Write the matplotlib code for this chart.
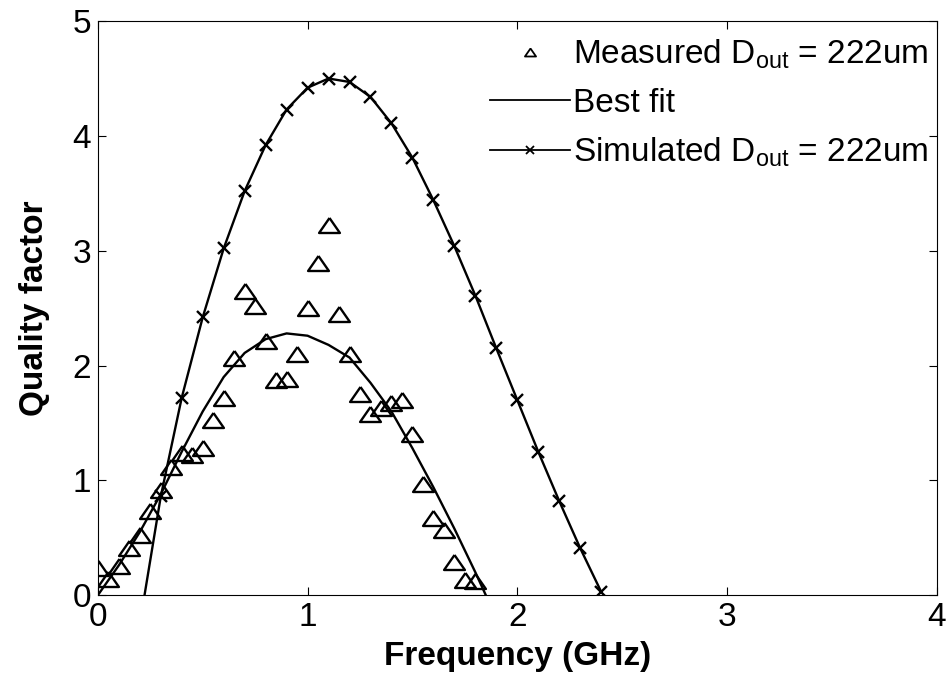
import matplotlib
matplotlib.use("Agg")
import matplotlib.pyplot as plt
from matplotlib.lines import Line2D

plt.rcParams["font.family"] = ["Liberation Sans", "DejaVu Sans"]
plt.rcParams["mathtext.fontset"] = "custom"
plt.rcParams["mathtext.rm"] = "Liberation Sans"
plt.rcParams["mathtext.it"] = "Liberation Sans:italic"
plt.rcParams["mathtext.bf"] = "Liberation Sans:bold"

# measured quality factor
meas_f = [0.0, 0.05, 0.1, 0.15, 0.2, 0.25, 0.3, 0.35, 0.4, 0.45, 0.5, 0.55,
          0.6, 0.65, 0.7, 0.75, 0.8, 0.85, 0.9, 0.95, 1.0, 1.05, 1.1, 1.15,
          1.2, 1.25, 1.3, 1.35, 1.4, 1.45, 1.5, 1.55, 1.6, 1.65, 1.7, 1.75, 1.8]
meas_q = [0.24, 0.14, 0.255, 0.41, 0.52, 0.73, 0.92, 1.12, 1.24, 1.22, 1.28, 1.53,
          1.72, 2.07, 2.65, 2.52, 2.21, 1.87, 1.88, 2.10, 2.50, 2.89, 3.22, 2.45,
          2.10, 1.75, 1.58, 1.63, 1.67, 1.70, 1.40, 0.97, 0.67, 0.57, 0.29, 0.13, 0.12]

# best fit curve
fit_f = [0.0, 0.1, 0.2, 0.3, 0.4, 0.5, 0.6, 0.7, 0.8, 0.9, 1.0,
         1.1, 1.2, 1.3, 1.4, 1.5, 1.6, 1.7, 1.8, 1.85]
fit_q = [0.0, 0.26, 0.55, 0.88, 1.25, 1.60, 1.90, 2.11, 2.23, 2.28, 2.26,
         2.18, 2.07, 1.85, 1.60, 1.28, 0.94, 0.58, 0.20, 0.0]

# simulated quality factor
sim_f = [0.2, 0.3, 0.4, 0.5, 0.6, 0.7, 0.8, 0.9, 1.0, 1.1, 1.2, 1.3,
         1.4, 1.5, 1.6, 1.7, 1.8, 1.9, 2.0, 2.1, 2.2, 2.3, 2.4]
sim_q = [-0.25, 0.86, 1.72, 2.42, 3.02, 3.52, 3.92, 4.23, 4.42, 4.50, 4.47, 4.34,
         4.11, 3.81, 3.44, 3.04, 2.61, 2.15, 1.70, 1.25, 0.82, 0.41, 0.03]

tri = [(0, 0.72), (-1, -0.72), (1, -0.72), (0, 0.72)]
fs = 24

fig, ax = plt.subplots(figsize=(9.5, 6.81), dpi=100)
fig.subplots_adjust(left=0.103, right=0.986, bottom=0.126, top=0.969)

ax.plot(meas_f, meas_q, ls="none", marker=tri, ms=15, mfc="none", mec="k", mew=1.7)
ax.plot(fit_f, fit_q, color="k", lw=1.7)
ax.plot(sim_f, sim_q, color="k", lw=1.7, marker="x", ms=9, mew=1.7)

ax.set_xlim(0, 4)
ax.set_ylim(0, 5)
ax.set_xticks([0, 1, 2, 3, 4])
ax.set_yticks([0, 1, 2, 3, 4, 5])
ax.tick_params(direction="in", top=True, right=True, length=6, width=0.8,
               labelsize=fs, pad=5)
for s in ax.spines.values():
    s.set_linewidth(0.8)

ax.set_xlabel("Frequency (GHz)", fontsize=fs, fontweight="bold", labelpad=6)
ax.set_ylabel("Quality factor", fontsize=fs, fontweight="bold", labelpad=16)

handles = [
    Line2D([], [], ls="none", marker=tri, ms=8, mfc="none", mec="k", mew=1.3),
    Line2D([], [], color="k", lw=1.3),
    Line2D([], [], color="k", lw=1.3, marker="x", ms=6, mew=1.3),
]
labels = [r"Measured D$_{\mathrm{out}}$ = 222um", "Best fit",
          r"Simulated D$_{\mathrm{out}}$ = 222um"]
ax.legend(handles, labels, loc="upper right", bbox_to_anchor=(1.0, 0.985),
          frameon=False, fontsize=fs, handlelength=2.4, handletextpad=0.1,
          labelspacing=0.5, borderpad=0.15, borderaxespad=0.1)

fig.savefig("out.png", dpi=100)
